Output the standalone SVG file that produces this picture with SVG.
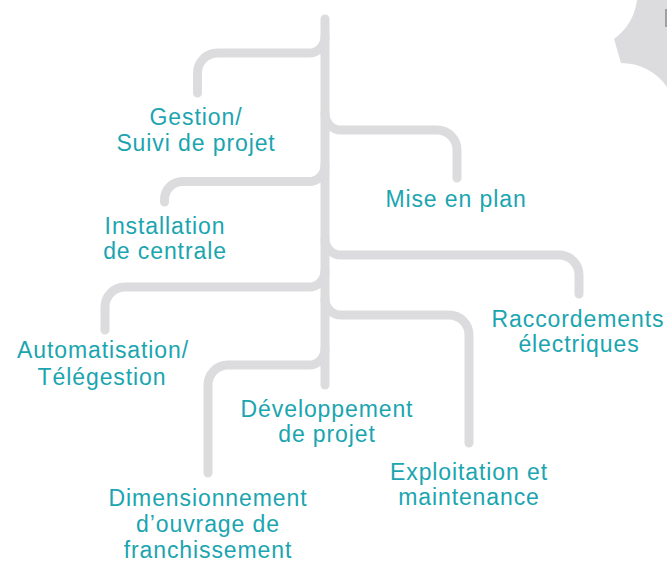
<svg xmlns="http://www.w3.org/2000/svg" width="667" height="562" viewBox="0 0 667 562">
  <style>
    .branch { fill: none; stroke: #dcdcde; stroke-width: 9; stroke-linecap: round; stroke-linejoin: round; }
    .label { font-family: "Liberation Sans", Arial, sans-serif; font-size: 23px; letter-spacing: 0.9px; fill: #1aa5b0; text-anchor: middle; }
  </style>

  <!-- decorative cog edge, top right -->
  <path d="M637,0 A58,58 0 0 1 614,39 L621,63 A56,56 0 0 1 667,87 L667,0 Z" fill="#dcdcde"/>
  <line x1="666" y1="9" x2="666" y2="27" stroke="#8c8c8e" stroke-width="1.5"/>

  <!-- trunk and branches -->
  <g id="connectors">
    <path class="branch" d="M325,19 V385"/>
    <path class="branch" d="M325,37 A16,16 0 0 1 309,53 H217.5 A20,20 0 0 0 197.5,73 V93"/>
    <path class="branch" d="M325,114 A16,16 0 0 0 341,130 H437 A20,20 0 0 1 457,150 V178"/>
    <path class="branch" d="M325,165.5 A16,16 0 0 1 309,181.5 H182.5 A18,18 0 0 0 164.5,199.5 V202"/>
    <path class="branch" d="M325,239 A16,16 0 0 0 341,255 H559 A20,20 0 0 1 579,275 V294"/>
    <path class="branch" d="M325,271 A16,16 0 0 1 309,287 H125 A20,20 0 0 0 105,307 V330"/>
    <path class="branch" d="M325,299 A16,16 0 0 0 341,315 H449 A20,20 0 0 1 469,335 V443"/>
    <path class="branch" d="M325,349 A16,16 0 0 1 309,365 H228 A20,20 0 0 0 208,385 V473"/>
  </g>

  <g id="gestion">
    <text class="label" x="196" y="125">Gestion/</text>
    <text class="label" x="196" y="151">Suivi de projet</text>
  </g>
  <g id="mise-en-plan">
    <text class="label" x="456" y="207">Mise en plan</text>
  </g>
  <g id="installation">
    <text class="label" x="165" y="234">Installation</text>
    <text class="label" x="165" y="259">de centrale</text>
  </g>
  <g id="raccordements">
    <text class="label" x="578" y="327">Raccordements</text>
    <text class="label" x="579" y="352">électriques</text>
  </g>
  <g id="automatisation">
    <text class="label" x="103" y="358">Automatisation/</text>
    <text class="label" x="102" y="385">Télégestion</text>
  </g>
  <g id="developpement">
    <text class="label" x="327" y="417">Développement</text>
    <text class="label" x="327" y="442">de projet</text>
  </g>
  <g id="exploitation">
    <text class="label" x="469" y="480">Exploitation et</text>
    <text class="label" x="469" y="505">maintenance</text>
  </g>
  <g id="dimensionnement">
    <text class="label" x="208" y="506">Dimensionnement</text>
    <text class="label" x="208" y="532">d’ouvrage de</text>
    <text class="label" x="208" y="558">franchissement</text>
  </g>
</svg>
